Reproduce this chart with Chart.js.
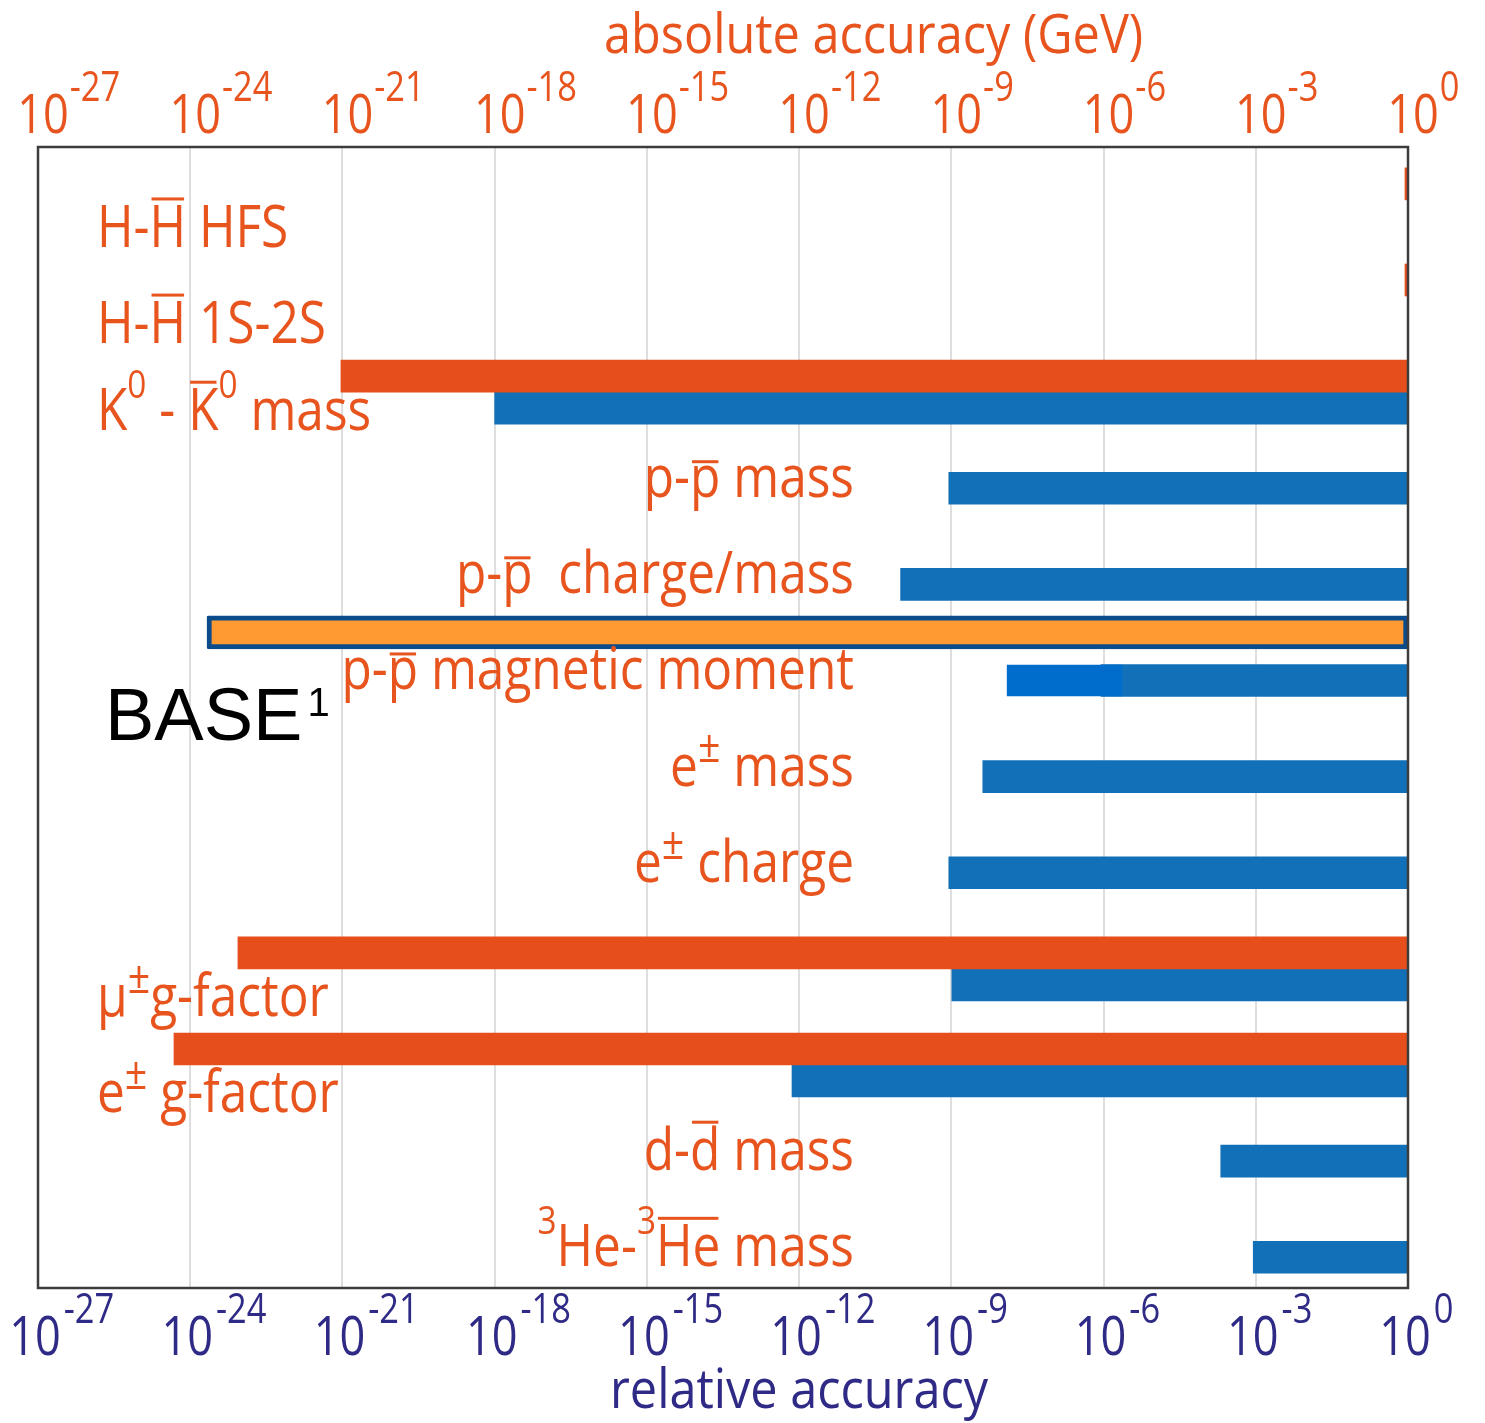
<!DOCTYPE html>
<html>
<head>
<meta charset="utf-8">
<script src="https://cdn.jsdelivr.net/npm/chart.js@4.4.1/dist/chart.umd.min.js"></script>
<style>
  html, body { margin: 0; padding: 0; background: #fff; }
  #wrap { width: 1485px; height: 1423px; position: relative; }
</style>
</head>
<body>
<div id="wrap"><canvas id="accuracy"></canvas></div>
<script>
// rows, top to bottom
const rows = ['hfs', '1s2s', 'kaon', 'pMass', 'pChargeMass', 'pMagnetic', 'eMass', 'eCharge', 'muG', 'eG', 'dMass', 'heMass'];
// [x] = overline, ^c = superscript char
const rowLabels = [
    'H-[H] HFS',
    'H-[H] 1S-2S',
    'K^0 - [K]^0 mass',
    'p-[p] mass',
    'p-[p]  charge/mass',
    'p-[p] magnetic moment',
    'e^± mass',
    'e^± charge',
    'μ^±g-factor',
    'e^± g-factor',
    'd-[d] mass',
    '^3He-^3[He] mass'
];
// log10 of the lower end of each bar (upper end is 10^0)
const absoluteExp = [-0.06, -0.06, -21.03, null, null, null, null, null, -23.06, -24.32, null, null];
const relativeExp = [null, null, -18.0, -9.05, -10.0, -6.05, -8.38, -9.05, -8.99, -12.14, -3.69, -3.05];
// BASE projection box and the BASE magnetic moment result
const baseBoxExp = [-23.67, 0];
const baseMagneticExp = [-7.9, -5.64];
const tickExps = [-27, -24, -21, -18, -15, -12, -9, -6, -3, 0];

const leftLabelRows = ['hfs', '1s2s', 'kaon', 'muG', 'eG'];

const ORANGE_TEXT = '#e8541e';
const NAVY_TEXT = '#2f2a85';

function toBar(e) {
    return e === null ? null : [Math.pow(10, e), 1];
}

function parseRich(spec) {
    let runs = [];
    let over = false;
    let i = 0;
    while (i < spec.length) {
        const ch = spec[i];
        if (ch === '[') { over = true; i++; continue; }
        if (ch === ']') { over = false; i++; continue; }
        if (ch === '^') {
            runs.push({ t: spec[i + 1], sup: true, over: over });
            i += 2;
            continue;
        }
        const last = runs[runs.length - 1];
        if (last && !last.sup && last.over === over) {
            last.t += ch;
        } else {
            runs.push({ t: ch, sup: false, over: over });
        }
        i++;
    }
    return runs;
}

function drawRich(ctx, spec, x, y, align, size, squeeze) {
    const runs = parseRich(spec);
    // the ± sign is drawn bigger, like in the original figure
    const supSize = r => (r.t === '±' ? 0.8 : 0.68) * size;
    const supRaise = r => (r.t === '±' ? 0.4 : 0.55) * size;
    const fontFor = r => (r.sup ? Math.round(supSize(r)) : size) + 'px "Open Sans"';
    const widths = runs.map(r => {
        ctx.font = fontFor(r);
        return ctx.measureText(r.t).width * squeeze;
    });
    const total = widths.reduce((a, b) => a + b, 0);
    let cx = align === 'right' ? x - total : x;
    runs.forEach((r, k) => {
        ctx.font = fontFor(r);
        ctx.save();
        ctx.translate(cx, y - (r.sup ? supRaise(r) : 0));
        ctx.scale(squeeze, 1);
        ctx.fillText(r.t, 0, 0);
        ctx.restore();
        if (r.over) {
            const low = /^[acemnoprsuvwxz]+$/.test(r.t);
            const lineY = low ? y - size * 0.535 - 6 : y - size * 0.714 - 8;
            ctx.fillRect(cx + 2, lineY, widths[k] - 4, 3);
        }
        cx += widths[k];
    });
}

function drawSqueezed(ctx, text, x, y, font, squeeze, align) {
    ctx.font = font;
    const w = ctx.measureText(text).width * squeeze;
    let sx = x;
    if (align === 'center') sx = x - w / 2;
    if (align === 'right') sx = x - w;
    ctx.save();
    ctx.translate(sx, y);
    ctx.scale(squeeze, 1);
    ctx.fillText(text, 0, 0);
    ctx.restore();
    return w;
}

function drawPower(ctx, exp, cx, baseline, gap) {
    const tenW = drawSqueezed(ctx, '10', cx, baseline, '55px "Open Sans"', 0.82, 'center');
    const label = exp === 0 ? '0' : '-' + Math.abs(exp);
    drawSqueezed(ctx, label, cx + tenW / 2 + gap, baseline - 32, '42px "Open Sans"', 0.82, 'left');
}

const decorPlugin = {
    id: 'decor',
    afterDraw(chart) {
        const ctx = chart.ctx;
        const area = chart.chartArea;
        const x = chart.scales.x;
        const y = chart.scales.y;
        ctx.save();
        ctx.textBaseline = 'alphabetic';

        // frame
        ctx.strokeStyle = '#3c3c3c';
        ctx.lineWidth = 2.5;
        ctx.strokeRect(area.left, area.top, area.right - area.left, area.bottom - area.top);

        // tick labels, top (absolute) and bottom (relative)
        tickExps.forEach(e => {
            const px = x.getPixelForValue(Math.pow(10, e));
            ctx.fillStyle = ORANGE_TEXT;
            drawPower(ctx, e, px + 5, area.top - 14, 1);
            ctx.fillStyle = NAVY_TEXT;
            drawPower(ctx, e, px - 3, area.bottom + 67, 3);
        });

        // axis titles
        ctx.fillStyle = ORANGE_TEXT;
        drawSqueezed(ctx, 'absolute accuracy (GeV)', area.left + 566, 53, '54px "Open Sans"', 0.9, 'left');
        ctx.fillStyle = NAVY_TEXT;
        drawSqueezed(ctx, 'relative accuracy', area.left + 572, area.bottom + 120, '54px "Open Sans"', 0.9, 'left');

        // row labels
        ctx.fillStyle = ORANGE_TEXT;
        rows.forEach((row, i) => {
            const py = y.getPixelForValue(i);
            if (leftLabelRows.includes(row)) {
                const dy = row === 'kaon' ? 38 : 47;
                drawRich(ctx, rowLabels[i], area.left + 59, py + dy, 'left', 58, 0.855);
            } else {
                drawRich(ctx, rowLabels[i], area.left + 816, py + 9, 'right', 58, 0.855);
            }
        });

        // BASE tag
        const magY = y.getPixelForValue(rows.indexOf('pMagnetic'));
        ctx.fillStyle = '#000000';
        ctx.font = '74px "Liberation Sans"';
        ctx.fillText('BASE', area.left + 67, magY + 60);
        const bw = ctx.measureText('BASE').width;
        ctx.font = '40px "Liberation Sans"';
        ctx.fillText('1', area.left + 67 + bw + 5, magY + 36);

        ctx.restore();
    }
};

function createAccuracyChart() {
    const ctx = document.querySelector('#accuracy').getContext('2d');
    const magRow = rows.indexOf('pMagnetic');

    const configuration = {
        type: 'bar',
        data: {
            labels: rows.map((r, i) => i),
            datasets: [
                {
                    label: 'BASE projection',
                    data: [{ x: baseBoxExp.map(e => Math.pow(10, e)), y: magRow - 0.5 }],
                    grouped: false,
                    backgroundColor: '#ff9a33',
                    borderColor: '#0b4b8c',
                    borderWidth: 5,
                    borderSkipped: false,
                    borderRadius: 2,
                    barThickness: 33,
                    order: 0
                },
                {
                    label: 'BASE magnetic moment',
                    data: [{ x: baseMagneticExp.map(e => Math.pow(10, e)), y: magRow }],
                    grouped: false,
                    backgroundColor: '#006dcc',
                    barThickness: 31,
                    order: 0
                },
                {
                    label: 'absolute accuracy',
                    data: absoluteExp.map(toBar),
                    backgroundColor: '#e64f1b',
                    barThickness: 32,
                    order: 1
                },
                {
                    label: 'relative accuracy',
                    data: relativeExp.map(toBar),
                    backgroundColor: '#1170b7',
                    barThickness: 32,
                    skipNull: true,
                    order: 1
                }
            ]
        },
        options: {
            indexAxis: 'y',
            responsive: true,
            maintainAspectRatio: false,
            animation: false,
            layout: {
                padding: { left: 38, right: 77, top: 147, bottom: 135 }
            },
            plugins: {
                legend: { display: false },
                tooltip: { enabled: false }
            },
            scales: {
                x: {
                    type: 'logarithmic',
                    position: 'bottom',
                    min: 1e-27,
                    max: 1,
                    afterBuildTicks: scale => {
                        scale.ticks = tickExps.map(e => ({ value: Math.pow(10, e) }));
                    },
                    ticks: { display: false },
                    grid: { color: '#dedede', lineWidth: 2, drawTicks: false },
                    border: { display: false }
                },
                y: {
                    type: 'linear',
                    display: false,
                    offset: false,
                    reverse: true,
                    min: -0.55,
                    max: 11.32
                }
            }
        },
        plugins: [decorPlugin]
    };

    new Chart(ctx, configuration);
}

createAccuracyChart();
</script>
</body>
</html>
